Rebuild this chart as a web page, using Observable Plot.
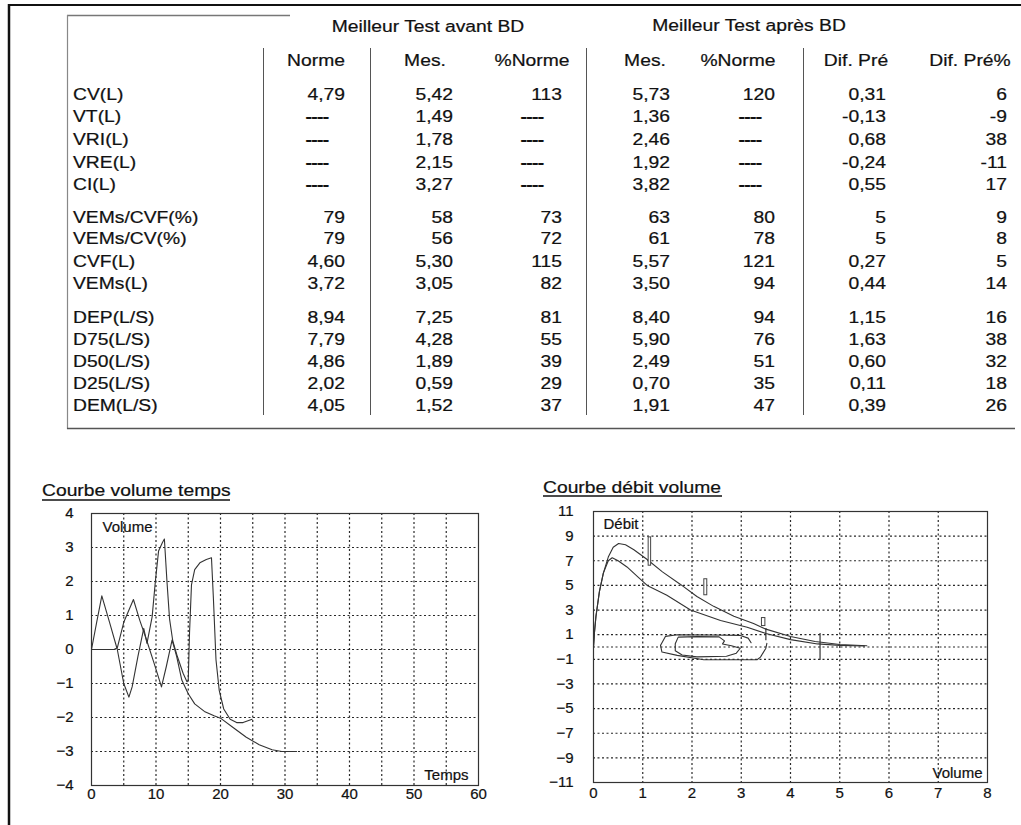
<!DOCTYPE html>
<html><head><meta charset="utf-8">
<script src="https://cdn.jsdelivr.net/npm/d3@7"></script>
<script src="https://cdn.jsdelivr.net/npm/@observablehq/plot@0.6"></script>
<style>
body{margin:0;background:#fff;}
#page{position:relative;width:1021px;height:825px;overflow:hidden;font-family:"Liberation Sans",Arial,sans-serif;background:#fff;}
#page > svg{position:absolute;}
#page svg text{stroke:#111;stroke-width:0.22px;}
</style></head><body><div id="page"></div>
<script>
// ---------- Table data ----------
const groupTitles = ["Meilleur Test avant BD", "Meilleur Test après BD"];
const colHeaders = ["Norme", "Mes.", "%Norme", "Mes.", "%Norme", "Dif. Pré", "Dif. Pré%"];
const rowLabels = ["CV(L)","VT(L)","VRI(L)","VRE(L)","CI(L)","VEMs/CVF(%)","VEMs/CV(%)","CVF(L)","VEMs(L)","DEP(L/S)","D75(L/S)","D50(L/S)","D25(L/S)","DEM(L/S)"];
const norme     = ["4,79","----","----","----","----","79","79","4,60","3,72","8,94","7,79","4,86","2,02","4,05"];
const mesAvant  = ["5,42","1,49","1,78","2,15","3,27","58","56","5,30","3,05","7,25","4,28","1,89","0,59","1,52"];
const pctAvant  = ["113","----","----","----","----","73","72","115","82","81","55","39","29","37"];
const mesApres  = ["5,73","1,36","2,46","1,92","3,82","63","61","5,57","3,50","8,40","5,90","2,49","0,70","1,91"];
const pctApres  = ["120","----","----","----","----","80","78","121","94","94","76","51","35","47"];
const difPre    = ["0,31","-0,13","0,68","-0,24","0,55","5","5","0,27","0,44","1,15","1,63","0,60","0,11","0,39"];
const difPrePct = ["6","-9","38","-11","17","9","8","5","14","16","38","32","18","26"];

// ---------- Chart titles / labels ----------
const chartTitles = ["Courbe volume temps", "Courbe débit volume"];

// ---------- Courbe volume temps ----------
const vtTicksX = [0,10,20,30,40,50,60];
const vtTicksY = [-4,-3,-2,-1,0,1,2,3,4];
const vtGridX = [5,10,15,20,25,30,35,40,45,50,55];
const vtGridY = [-3,-2,-1,0,1,2,3];
const vtTime1 = [0,0.8,1.6,2.8,4.0,5.0,5.8,6.3,7.2,8.1,8.6,9.4,9.9,10.4,11.0,11.3,11.7,12.1,12.6,13.3,14.2,14.8,15.0,15.2,15.5,16.0,16.8,17.8,18.6,18.9,19.3,19.8,20.5,21.5,22.5,23.5,24.9];
const vtVol1  = [0,0.8,1.58,0.8,0,-1.0,-1.4,-1.1,-0.2,0.62,0.18,0.96,2.0,2.9,3.15,3.25,2.0,0.9,0.25,-0.2,-0.7,-0.95,-0.9,0.5,1.9,2.35,2.55,2.65,2.7,1.5,-0.3,-1.2,-1.75,-2.05,-2.15,-2.15,-2.05];
const vtTime2 = [0,3.5,4.0,5.0,6.5,7.5,8.5,9.7,10.85,11.6,12.5,13.2,14.0,15.0,16.0,17.5,19.0,20.0,22.0,24.0,26.0,28.0,29.5,31.8];
const vtVol2  = [0,0,0.05,0.8,1.47,0.85,0.3,-0.4,-1.1,-0.5,0.28,-0.2,-0.9,-1.3,-1.6,-1.82,-1.95,-2.02,-2.3,-2.58,-2.8,-2.95,-3.0,-3.0];

// ---------- Courbe débit volume ----------
const dvTicksX = [0,1,2,3,4,5,6,7,8];
const dvTicksY = [-11,-9,-7,-5,-3,-1,1,3,5,7,9,11];
const dvGridX = [1,2,3,4,5,6,7];
const dvGridY = [-9,-7,-5,-3,-1,0,1,3,5,7,9];
const dvVol1  = [0,0.02,0.05,0.12,0.2,0.3,0.4,0.51,0.65,0.82,1.09,1.4,1.76,2.1,2.44,2.85,3.25,3.5,4.0,4.5,5.0,5.55];
const dvFlow1 = [0,1.2,2.5,4.5,6.0,7.3,8.1,8.4,8.3,7.9,7.1,6.1,5.1,4.1,3.3,2.5,1.9,1.45,0.85,0.45,0.2,0.1];
const dvVol2  = [0,0.02,0.05,0.12,0.2,0.3,0.38,0.5,0.68,0.9,1.09,1.49,1.97,2.58,3.12,3.5,4.0,4.55,5.0,5.5];
const dvFlow2 = [0,1.2,2.5,4.5,6.0,7.0,7.25,7.0,6.5,5.7,5.0,4.2,3.0,2.15,1.6,1.1,0.6,0.25,0.13,0.08];
// inspiratory loops
const loopAVol  = [1.36,1.46,1.70,2.4,2.98,3.14,3.2];
const loopAFlow = [0.13,0.86,1.0,0.98,0.94,0.72,0.35];
const loopBVol  = [3.52,3.5,3.39,3.32,2.24,1.70,1.39,1.36];
const loopBFlow = [0.3,-0.1,-0.82,-1.03,-1.03,-0.68,-0.41,0.13];
const loopCVol  = [1.66,1.72,2.1,2.55,2.66,2.62,2.8,2.98,2.9,2.7,2.1,1.8,1.66,1.66];
const loopCFlow = [0.27,0.8,0.84,0.82,0.5,0.25,0.1,-0.1,-0.5,-0.75,-0.8,-0.65,-0.3,0.27];
// predicted markers
const markX1 = [1.12,2.25,3.42];
const markX2 = [1.17,2.31,3.49];
const markY1 = [6.6,4.2,1.7];
const markY2 = [8.9,5.5,2.35];
const ruleVol = [3.5,4.6];
const ruleLo  = [0.5,-1.1];
const ruleHi  = [1.5,1.1];

// ---------- Page (table, borders, titles) ----------
const page = d3.select("#page");
const svg = page.append("svg").attr("width",1021).attr("height",825).style("left","0px").style("top","0px");
// outer frame
svg.append("line").attr("x1",8).attr("x2",1021).attr("y1",5).attr("y2",5).attr("stroke","#111").attr("stroke-width",2);
svg.append("line").attr("x1",9).attr("x2",9).attr("y1",4).attr("y2",825).attr("stroke","#111").attr("stroke-width",2.5);
// table box
svg.append("line").attr("x1",67).attr("x2",290).attr("y1",15.5).attr("y2",15.5).attr("stroke","#777").attr("stroke-width",1.5);
svg.append("line").attr("x1",67.5).attr("x2",67.5).attr("y1",15).attr("y2",429).attr("stroke","#888").attr("stroke-width",1.2);
svg.append("line").attr("x1",67).attr("x2",1015).attr("y1",428.5).attr("y2",428.5).attr("stroke","#555").attr("stroke-width",1.5);
for (const x of [263,370,586,803]) {
  svg.append("line").attr("x1",x+0.5).attr("x2",x+0.5).attr("y1",48).attr("y2",415).attr("stroke","#555").attr("stroke-width",1);
}
const SX = 1.17;
const g = svg.append("g").attr("transform",`scale(${SX},1)`).attr("fill","#111")
  .style("font-family","'Liberation Sans', Arial, sans-serif").style("font-size","16.5px");
function txt(x, y, s, anchor) {
  return g.append("text").attr("x", x / SX).attr("y", y).attr("dy","0.36em").attr("text-anchor", anchor).text(s);
}
txt(428, 26, groupTitles[0], "middle");
txt(749, 25, groupTitles[1], "middle");
const headerCenters = [316,425,532,645,738,856,970];
colHeaders.forEach((h,i) => txt(headerCenters[i], 60, h, "middle"));
const rowY = [94,116,139,162,184,217,238,261,283,317,339,361,383,405];
rowLabels.forEach((r,i) => txt(73, rowY[i], r, "start"));
const columns = [norme, mesAvant, pctAvant, mesApres, pctApres, difPre, difPrePct];
const rightEdges = [345,453,562,670,775,886,1007];
const dashCenters = [317,428,532,645,750,856,970];
columns.forEach((col, c) => {
  col.forEach((v, i) => {
    if (v === "----") txt(dashCenters[c], rowY[i], v, "middle").attr("font-weight","bold").attr("letter-spacing","-0.6px");
    else txt(rightEdges[c], rowY[i], v, "end");
  });
});
// chart titles
txt(42, 490, chartTitles[0], "start");
txt(543, 487, chartTitles[1], "start");
svg.append("line").attr("x1",42).attr("x2",230).attr("y1",500).attr("y2",500).attr("stroke","#111").attr("stroke-width",1.3);
svg.append("line").attr("x1",543).attr("x2",722).attr("y1",496).attr("y2",496).attr("stroke","#111").attr("stroke-width",1.3);

// ---------- Charts ----------
const font = {fontFamily:"'Liberation Sans', Arial, sans-serif", fontSize:"15px", color:"#111", background:"transparent", overflow:"visible"};
const gridStyle = {stroke:"#111", strokeOpacity:0.9, strokeWidth:1.2, strokeDasharray:"2,2.5"};
const lineStyle = {stroke:"#333", strokeWidth:1.1};

const vt1 = vtTime1.map((t,i) => ({t, v: vtVol1[i]}));
const vt2 = vtTime2.map((t,i) => ({t, v: vtVol2[i]}));

const chartVT = Plot.plot({
  width: 470, height: 310,
  marginLeft: 61, marginRight: 22, marginTop: 13, marginBottom: 25,
  style: font,
  x: {domain: [0,60], ticks: vtTicksX, tickSize: 0, tickPadding: 3, label: null},
  y: {domain: [-4,4], ticks: vtTicksY, tickSize: 0, tickPadding: 18, label: null},
  marks: [
    Plot.gridX(vtGridX, gridStyle),
    Plot.gridY(vtGridY, gridStyle),
    Plot.line(vt1, {x: "t", y: "v", ...lineStyle}),
    Plot.line(vt2, {x: "t", y: "v", ...lineStyle}),
    Plot.frame({stroke: "#333", strokeWidth: 1.2}),
    Plot.text(["Volume"], {text: d => d, frameAnchor: "top-left", dx: 11, dy: 14, textAnchor: "start", lineAnchor: "middle", fontSize: 15, fill: "#111"}),
    Plot.text(["Temps"], {text: d => d, frameAnchor: "bottom-right", dx: -10, dy: -10, textAnchor: "end", lineAnchor: "middle", fontSize: 15, fill: "#111"})
  ]
});
d3.select(chartVT).style("position","absolute").style("left","30px").style("top","500px");
page.node().appendChild(chartVT);

const dv1 = dvVol1.map((x,i) => ({x, y: dvFlow1[i]}));
const dv2 = dvVol2.map((x,i) => ({x, y: dvFlow2[i]}));
const loops = [
  ...loopAVol.map((x,i) => ({x, y: loopAFlow[i], k: "A"})),
  ...loopBVol.map((x,i) => ({x, y: loopBFlow[i], k: "B"})),
  ...loopCVol.map((x,i) => ({x, y: loopCFlow[i], k: "C"}))
];
const marks = markX1.map((x1,i) => ({x1, x2: markX2[i], y1: markY1[i], y2: markY2[i]}));
const rules = ruleVol.map((x,i) => ({x, y1: ruleLo[i], y2: ruleHi[i]}));

const chartDV = Plot.plot({
  width: 480, height: 312,
  marginLeft: 63, marginRight: 23, marginTop: 13, marginBottom: 28,
  style: font,
  x: {domain: [0,8], ticks: dvTicksX, tickSize: 0, tickPadding: 5, label: null},
  y: {domain: [-11,11], ticks: dvTicksY, tickSize: 0, tickPadding: 20, label: null},
  marks: [
    Plot.gridX(dvGridX, gridStyle),
    Plot.gridY(dvGridY, gridStyle),
    Plot.line(dv1, {x: "x", y: "y", ...lineStyle}),
    Plot.line(dv2, {x: "x", y: "y", ...lineStyle}),
    Plot.line(loops, {x: "x", y: "y", z: "k", ...lineStyle}),
    Plot.rect(marks, {x1: "x1", x2: "x2", y1: "y1", y2: "y2", fill: "white", stroke: "#444", strokeWidth: 1}),
    Plot.ruleX(rules, {x: "x", y1: "y1", y2: "y2", stroke: "#333", strokeWidth: 1.2}),
    Plot.frame({stroke: "#333", strokeWidth: 1.2}),
    Plot.text(["Débit"], {text: d => d, frameAnchor: "top-left", dx: 10, dy: 13, textAnchor: "start", lineAnchor: "middle", fontSize: 15, fill: "#111"}),
    Plot.text(["Volume"], {text: d => d, frameAnchor: "bottom-right", dx: -5, dy: -9, textAnchor: "end", lineAnchor: "middle", fontSize: 15, fill: "#111"})
  ]
});
d3.select(chartDV).style("position","absolute").style("left","530px").style("top","498px");
page.node().appendChild(chartDV);
</script>
</body></html>
